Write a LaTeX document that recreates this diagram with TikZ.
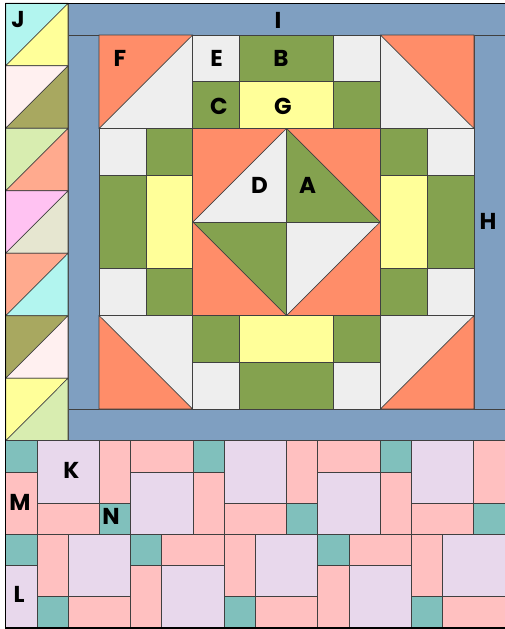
\documentclass[tikz,border=0pt]{standalone}
\usepackage{fontspec}
\setmainfont{Poppins}
\definecolor{sash}{HTML}{7F9FC1}
\definecolor{orng}{HTML}{FF8D69}
\definecolor{lgray}{HTML}{EEEEEE}
\definecolor{grn}{HTML}{84A24F}
\definecolor{yel}{HTML}{FFFF99}
\definecolor{jcyan}{HTML}{B2F5EF}
\definecolor{jpinklt}{HTML}{FFF0F0}
\definecolor{jolive}{HTML}{A8A860}
\definecolor{jgreenlt}{HTML}{D8EDB0}
\definecolor{jsalmon}{HTML}{FFAA8E}
\definecolor{jmagenta}{HTML}{FFC2F2}
\definecolor{jbeige}{HTML}{E6E6D0}
\definecolor{qteal}{HTML}{80C0BC}
\definecolor{qpink}{HTML}{FFC0C0}
\definecolor{qlav}{HTML}{E8D8EC}
\begin{document}
\begin{tikzpicture}[x=1pt,y=-1pt,
  piece/.style={draw=black!75,line width=0.7pt},
  lab/.style={font=\fontsize{23}{26}\selectfont\bfseries, inner sep=0pt, text=black}]
\useasboundingbox (0,0) rectangle (504,629);
% sashing
\filldraw[piece,fill=sash] (68,3.3) rectangle (506,35);
\filldraw[piece,fill=sash] (68,35) rectangle (99,409);
\filldraw[piece,fill=sash] (474,35) rectangle (506,409);
\filldraw[piece,fill=sash] (68,409) rectangle (506,440.7);
% main block
\begin{scope}[shift={(99,35)}, x=46.875pt, y=-46.75pt]
  % corner half-square triangles
  \fill[orng] (0,0) -- (2,0) -- (0,2) -- cycle;
  \fill[lgray] (2,0) -- (2,2) -- (0,2) -- cycle;
  \draw[piece] (0,0) rectangle (2,2) (0,2) -- (2,0);
  \fill[orng] (6,0) -- (8,0) -- (8,2) -- cycle;
  \fill[lgray] (6,0) -- (8,2) -- (6,2) -- cycle;
  \draw[piece] (6,0) rectangle (8,2) (6,0) -- (8,2);
  \fill[orng] (0,6) -- (2,8) -- (0,8) -- cycle;
  \fill[lgray] (0,6) -- (2,6) -- (2,8) -- cycle;
  \draw[piece] (0,6) rectangle (2,8) (0,6) -- (2,8);
  \fill[orng] (8,6) -- (8,8) -- (6,8) -- cycle;
  \fill[lgray] (6,6) -- (8,6) -- (6,8) -- cycle;
  \draw[piece] (6,6) rectangle (8,8) (6,8) -- (8,6);
  % top
  \filldraw[piece,fill=lgray] (2,0) rectangle (3,1);
  \filldraw[piece,fill=grn] (3,0) rectangle (5,1);
  \filldraw[piece,fill=lgray] (5,0) rectangle (6,1);
  \filldraw[piece,fill=grn] (2,1) rectangle (3,2);
  \filldraw[piece,fill=yel] (3,1) rectangle (5,2);
  \filldraw[piece,fill=grn] (5,1) rectangle (6,2);
  % bottom
  \filldraw[piece,fill=grn] (2,6) rectangle (3,7);
  \filldraw[piece,fill=yel] (3,6) rectangle (5,7);
  \filldraw[piece,fill=grn] (5,6) rectangle (6,7);
  \filldraw[piece,fill=lgray] (2,7) rectangle (3,8);
  \filldraw[piece,fill=grn] (3,7) rectangle (5,8);
  \filldraw[piece,fill=lgray] (5,7) rectangle (6,8);
  % left
  \filldraw[piece,fill=lgray] (0,2) rectangle (1,3);
  \filldraw[piece,fill=grn] (1,2) rectangle (2,3);
  \filldraw[piece,fill=grn] (0,3) rectangle (1,5);
  \filldraw[piece,fill=yel] (1,3) rectangle (2,5);
  \filldraw[piece,fill=lgray] (0,5) rectangle (1,6);
  \filldraw[piece,fill=grn] (1,5) rectangle (2,6);
  % right
  \filldraw[piece,fill=grn] (6,2) rectangle (7,3);
  \filldraw[piece,fill=lgray] (7,2) rectangle (8,3);
  \filldraw[piece,fill=yel] (6,3) rectangle (7,5);
  \filldraw[piece,fill=grn] (7,3) rectangle (8,5);
  \filldraw[piece,fill=grn] (6,5) rectangle (7,6);
  \filldraw[piece,fill=lgray] (7,5) rectangle (8,6);
  % center square in a square
  \fill[orng] (2,2) rectangle (6,6);
  \fill[lgray] (2,4) -- (4,2) -- (4,4) -- cycle;
  \fill[grn] (4,2) -- (6,4) -- (4,4) -- cycle;
  \fill[grn] (2,4) -- (4,4) -- (4,6) -- cycle;
  \fill[lgray] (4,4) -- (6,4) -- (4,6) -- cycle;
  \draw[piece] (2,2) rectangle (6,6);
  \draw[piece] (2,4) -- (4,2) -- (6,4) -- (4,6) -- cycle;
  \draw[piece] (2,4) -- (6,4) (4,2) -- (4,6);
\end{scope}
% J column
\begin{scope}[shift={(5.7,3.3)}, x=62.3pt, y=-62.486pt]
  \foreach \i/\ca/\cb in {0/jcyan/yel,1/jpinklt/jolive,2/jgreenlt/jsalmon,3/jmagenta/jbeige,4/jsalmon/jcyan,5/jolive/jpinklt,6/yel/jgreenlt}{
    \fill[\ca] (0,\i) -- (1,\i) -- (0,\i+1) -- cycle;
    \fill[\cb] (1,\i) -- (1,\i+1) -- (0,\i+1) -- cycle;
    \draw[piece] (0,\i) rectangle (1,\i+1) (0,\i+1) -- (1,\i);
  }
\end{scope}
% bottom quilt
\begin{scope}[shift={(5.7,440.7)}, x=31.2pt, y=-31.2pt]
  \filldraw[piece,fill=qteal] (0,0) rectangle (1,1);
  \filldraw[piece,fill=qpink] (0,1) rectangle (1,3);
  \foreach \c in {1,7,13}{
    \filldraw[piece,fill=qlav] (\c,0) rectangle (\c+2,2);
    \filldraw[piece,fill=qpink] (\c+2,0) rectangle (\c+3,2);
    \filldraw[piece,fill=qpink] (\c,2) rectangle (\c+2,3);
    \filldraw[piece,fill=qteal] (\c+2,2) rectangle (\c+3,3);
  }
  \foreach \c in {4,10}{
    \filldraw[piece,fill=qpink] (\c,0) rectangle (\c+2,1);
    \filldraw[piece,fill=qteal] (\c+2,0) rectangle (\c+3,1);
    \filldraw[piece,fill=qlav] (\c,1) rectangle (\c+2,3);
    \filldraw[piece,fill=qpink] (\c+2,1) rectangle (\c+3,3);
  }
  \filldraw[piece,fill=qteal] (0,3) rectangle (1,4);
  \filldraw[piece,fill=qlav] (0,4) rectangle (1,6);
  \foreach \c in {1,7,13}{
    \filldraw[piece,fill=qpink] (\c,3) rectangle (\c+1,5);
    \filldraw[piece,fill=qteal] (\c,5) rectangle (\c+1,6);
    \filldraw[piece,fill=qlav] (\c+1,3) rectangle (\c+3,5);
    \filldraw[piece,fill=qpink] (\c+1,5) rectangle (\c+3,6);
  }
  \foreach \c in {4,10}{
    \filldraw[piece,fill=qteal] (\c,3) rectangle (\c+1,4);
    \filldraw[piece,fill=qpink] (\c,4) rectangle (\c+1,6);
    \filldraw[piece,fill=qpink] (\c+1,3) rectangle (\c+3,4);
    \filldraw[piece,fill=qlav] (\c+1,4) rectangle (\c+3,6);
  }
\end{scope}
% outer frame
\draw[line width=1.3pt] (506,3.3) -- (5.7,3.3) -- (5.7,627.9) -- (506,627.9);
% labels
\node[lab] (lI) at (278,20) {I};
\node[lab] (lJ) at (18,20) {J};
\node[lab] (lF) at (120,58) {F};
\node[lab] (lE) at (216.5,58) {E};
\node[lab] (lB) at (281,58) {B};
\node[lab] (lC) at (219,106) {C};
\node[lab] (lG) at (283,106) {G};
\node[lab] (lD) at (259.5,185) {D};
\node[lab] (lA) at (307.5,185) {A};
\node[lab] (lH) at (488,221) {H};
\node[lab] (lK) at (71.5,470) {K};
\node[lab] (lM) at (20,502) {M};
\node[lab] (lN) at (111,516) {N};
\node[lab] (lL) at (19,594) {L};
\end{tikzpicture}
\end{document}
